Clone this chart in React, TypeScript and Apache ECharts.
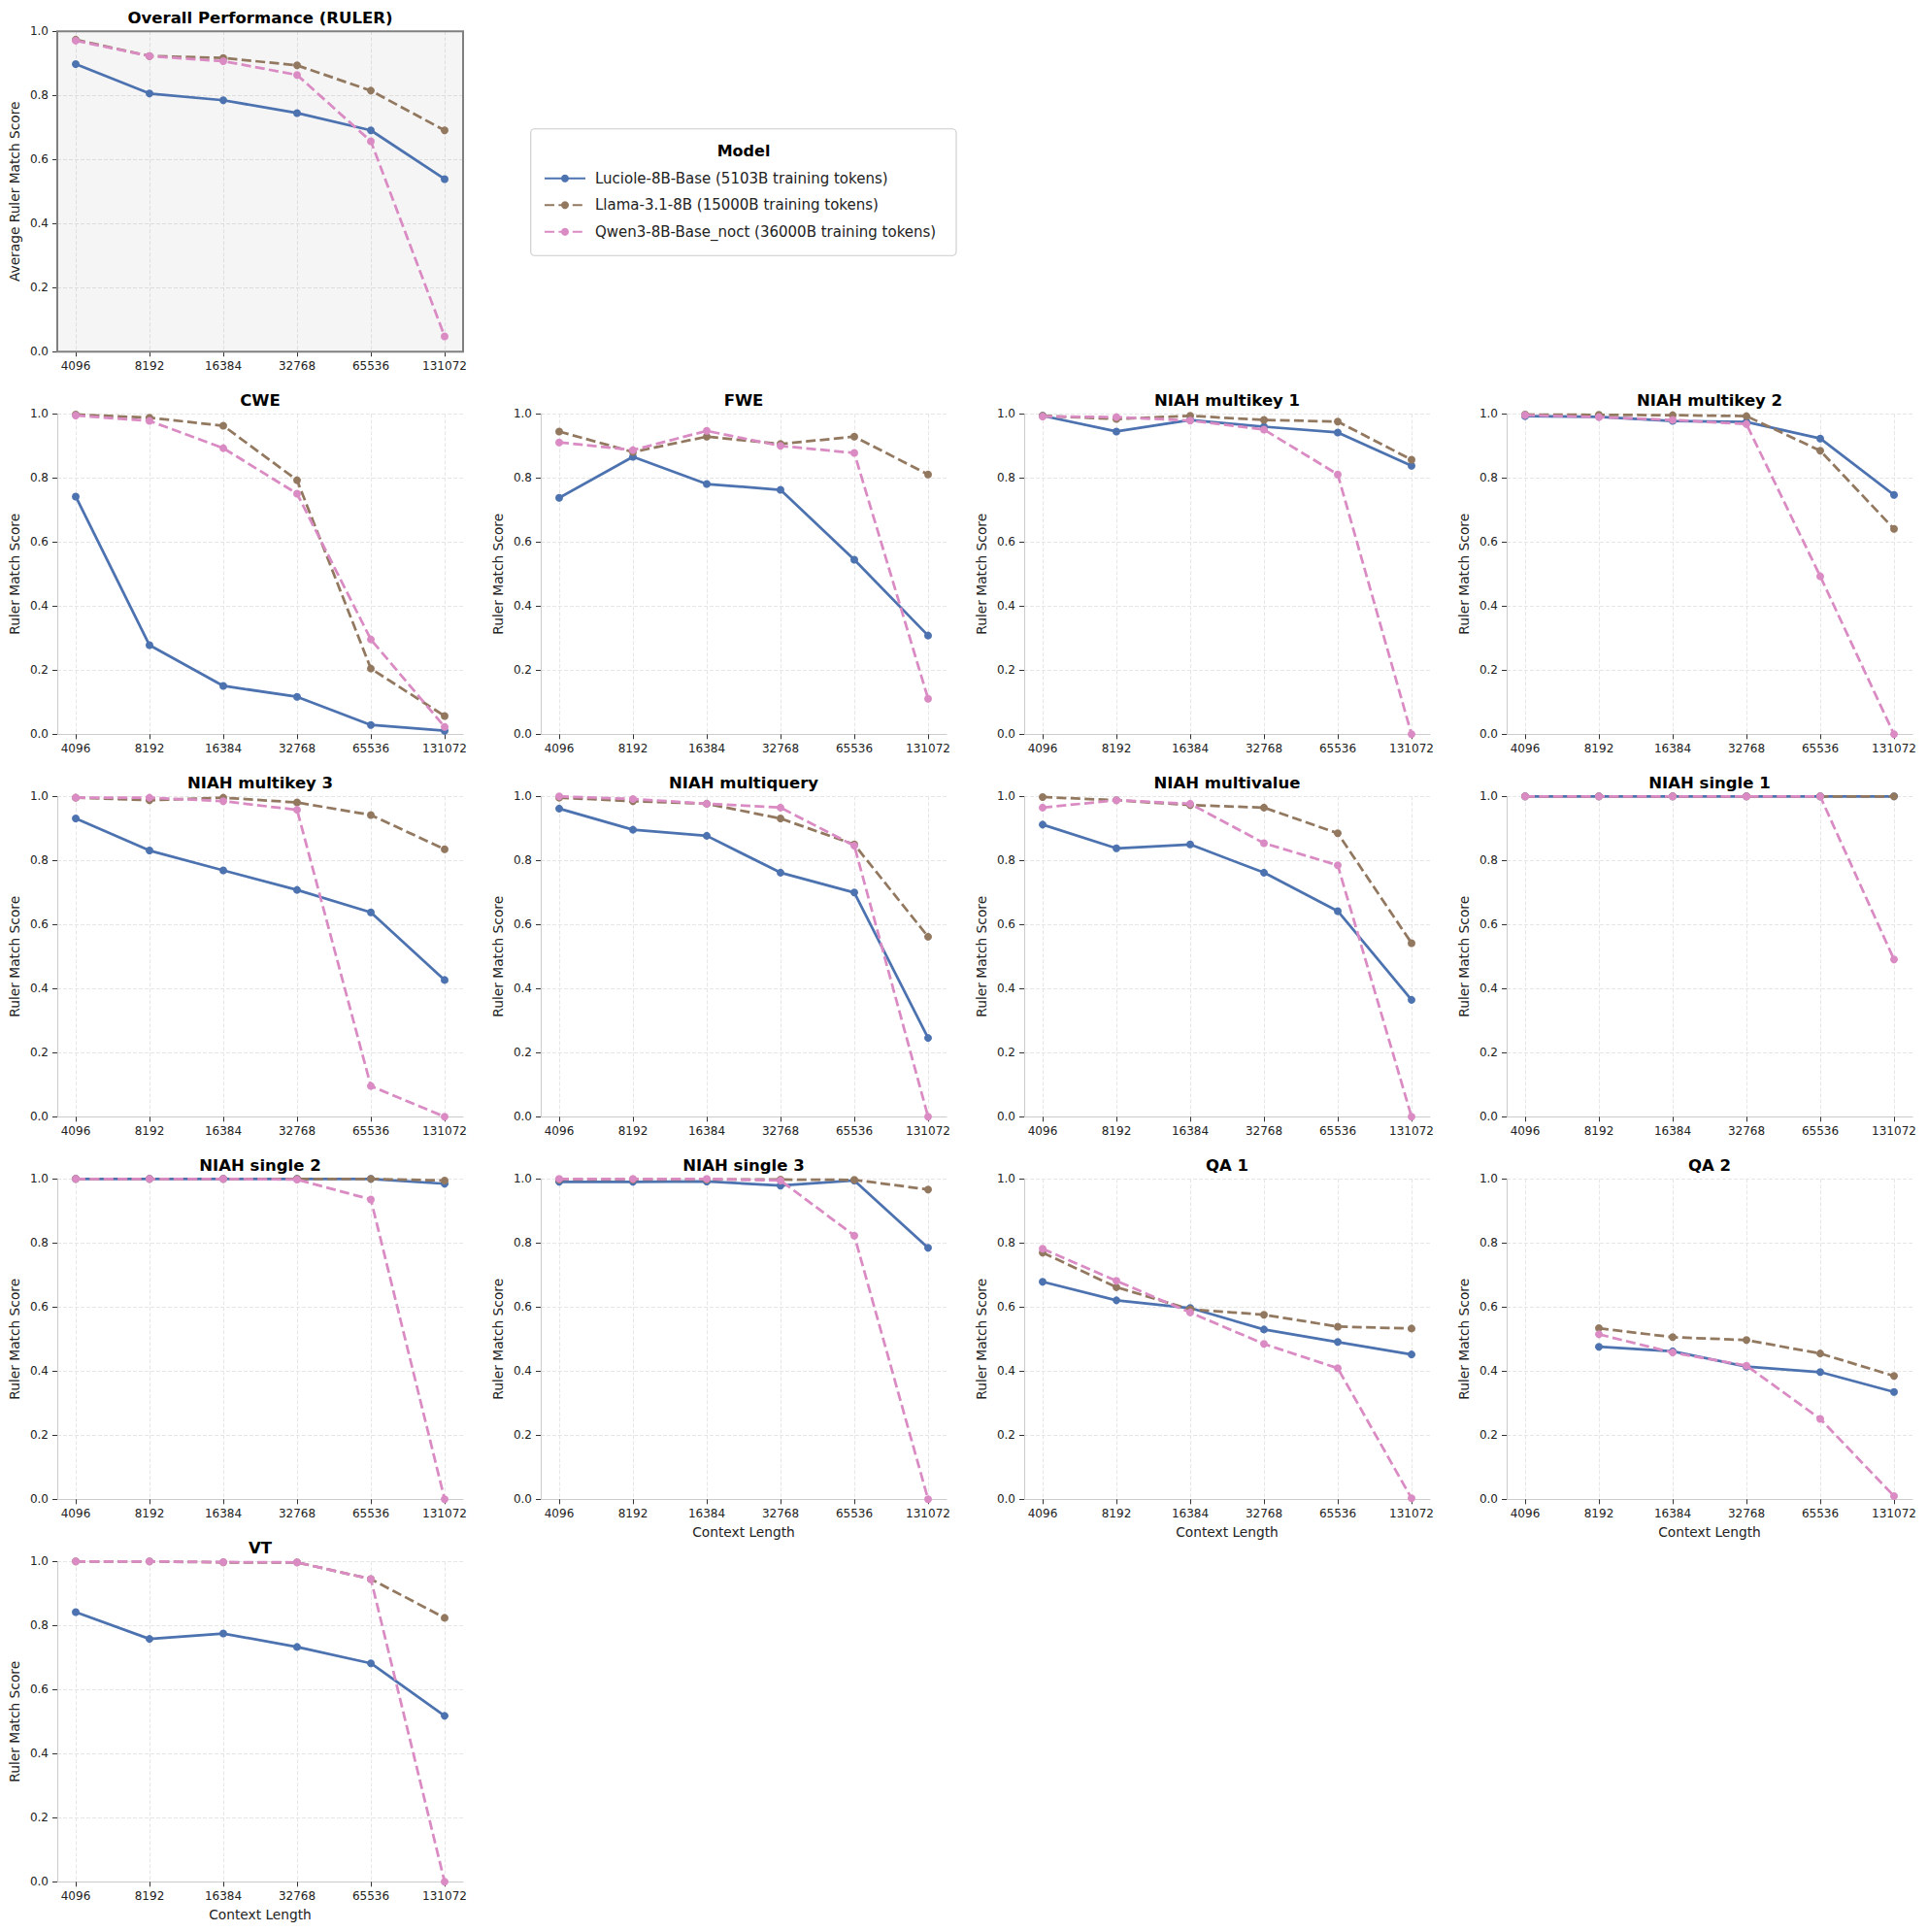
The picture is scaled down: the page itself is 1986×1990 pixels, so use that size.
import React, { useEffect, useRef } from "react";
import * as echarts from "echarts";

// ---------------- data ----------------
const contextLengths = ["4096", "8192", "16384", "32768", "65536", "131072"];
const modelNames = [
  "Luciole-8B-Base (5103B training tokens)",
  "Llama-3.1-8B (15000B training tokens)",
  "Qwen3-8B-Base_noct (36000B training tokens)",
];
const modelColors = ["#4C72B0", "#937860", "#DA8BC3"];

const overallLuciole = [0.898, 0.806, 0.785, 0.745, 0.691, 0.539];
const overallLlama = [0.974, 0.923, 0.917, 0.894, 0.815, 0.691];
const overallQwen = [0.971, 0.923, 0.907, 0.864, 0.657, 0.048];

const cweLuciole = [0.742, 0.278, 0.151, 0.117, 0.029, 0.011];
const cweLlama = [0.998, 0.988, 0.963, 0.793, 0.205, 0.057];
const cweQwen = [0.995, 0.978, 0.893, 0.751, 0.296, 0.023];

const fweLuciole = [0.738, 0.866, 0.781, 0.763, 0.545, 0.308];
const fweLlama = [0.945, 0.881, 0.929, 0.906, 0.929, 0.811];
const fweQwen = [0.911, 0.887, 0.947, 0.9, 0.878, 0.111];

const mk1Luciole = [0.994, 0.945, 0.981, 0.96, 0.942, 0.838];
const mk1Llama = [0.994, 0.984, 0.994, 0.981, 0.976, 0.857];
const mk1Qwen = [0.992, 0.99, 0.979, 0.951, 0.811, 0.0];

const mk2Luciole = [0.993, 0.991, 0.978, 0.975, 0.923, 0.747];
const mk2Llama = [0.998, 0.997, 0.996, 0.993, 0.885, 0.641];
const mk2Qwen = [0.996, 0.99, 0.981, 0.968, 0.493, 0.0];

const mk3Luciole = [0.931, 0.831, 0.769, 0.708, 0.638, 0.427];
const mk3Llama = [0.996, 0.988, 0.996, 0.981, 0.942, 0.835];
const mk3Qwen = [0.996, 0.996, 0.985, 0.958, 0.096, 0.0];

const mqLuciole = [0.962, 0.896, 0.877, 0.762, 0.7, 0.246];
const mqLlama = [0.996, 0.985, 0.977, 0.931, 0.85, 0.562];
const mqQwen = [1.0, 0.992, 0.977, 0.965, 0.846, 0.0];

const mvLuciole = [0.912, 0.838, 0.85, 0.762, 0.642, 0.365];
const mvLlama = [0.998, 0.988, 0.973, 0.965, 0.885, 0.542];
const mvQwen = [0.965, 0.988, 0.977, 0.854, 0.785, 0.0];

const s1Luciole = [1.0, 1.0, 1.0, 1.0, 1.0, 1.0];
const s1Llama = [1.0, 1.0, 1.0, 1.0, 1.0, 1.0];
const s1Qwen = [1.0, 1.0, 1.0, 1.0, 1.0, 0.491];

const s2Luciole = [1.0, 1.0, 1.0, 1.0, 1.0, 0.985];
const s2Llama = [1.0, 1.0, 1.0, 1.0, 1.0, 0.995];
const s2Qwen = [1.0, 1.0, 1.0, 0.998, 0.936, 0.0];

const s3Luciole = [0.991, 0.991, 0.992, 0.979, 0.995, 0.785];
const s3Llama = [0.998, 0.998, 0.998, 0.998, 0.997, 0.967];
const s3Qwen = [1.0, 1.0, 1.0, 0.995, 0.823, 0.0];

const qa1Luciole = [0.679, 0.621, 0.597, 0.53, 0.491, 0.452];
const qa1Llama = [0.77, 0.662, 0.593, 0.576, 0.539, 0.533];
const qa1Qwen = [0.782, 0.682, 0.583, 0.485, 0.409, 0.003];

const qa2Luciole = [null, 0.476, 0.462, 0.414, 0.397, 0.335];
const qa2Llama = [null, 0.534, 0.506, 0.497, 0.455, 0.385];
const qa2Qwen = [null, 0.515, 0.458, 0.417, 0.251, 0.01];

const vtLuciole = [0.842, 0.758, 0.775, 0.733, 0.682, 0.518];
const vtLlama = [1.0, 1.0, 0.997, 0.997, 0.945, 0.824];
const vtQwen = [1.0, 1.0, 0.998, 0.997, 0.945, 0.0];

type Panel = {
  title: string;
  row: number;
  col: number;
  series: (number | null)[][];
  yName: string;
  xName: boolean;
  overall?: boolean;
};

const panels: Panel[] = [
  { title: "Overall Performance (RULER)", row: 0, col: 0, series: [overallLuciole, overallLlama, overallQwen], yName: "Average Ruler Match Score", xName: false, overall: true },
  { title: "CWE", row: 1, col: 0, series: [cweLuciole, cweLlama, cweQwen], yName: "Ruler Match Score", xName: false },
  { title: "FWE", row: 1, col: 1, series: [fweLuciole, fweLlama, fweQwen], yName: "Ruler Match Score", xName: false },
  { title: "NIAH multikey 1", row: 1, col: 2, series: [mk1Luciole, mk1Llama, mk1Qwen], yName: "Ruler Match Score", xName: false },
  { title: "NIAH multikey 2", row: 1, col: 3, series: [mk2Luciole, mk2Llama, mk2Qwen], yName: "Ruler Match Score", xName: false },
  { title: "NIAH multikey 3", row: 2, col: 0, series: [mk3Luciole, mk3Llama, mk3Qwen], yName: "Ruler Match Score", xName: false },
  { title: "NIAH multiquery", row: 2, col: 1, series: [mqLuciole, mqLlama, mqQwen], yName: "Ruler Match Score", xName: false },
  { title: "NIAH multivalue", row: 2, col: 2, series: [mvLuciole, mvLlama, mvQwen], yName: "Ruler Match Score", xName: false },
  { title: "NIAH single 1", row: 2, col: 3, series: [s1Luciole, s1Llama, s1Qwen], yName: "Ruler Match Score", xName: false },
  { title: "NIAH single 2", row: 3, col: 0, series: [s2Luciole, s2Llama, s2Qwen], yName: "Ruler Match Score", xName: false },
  { title: "NIAH single 3", row: 3, col: 1, series: [s3Luciole, s3Llama, s3Qwen], yName: "Ruler Match Score", xName: true },
  { title: "QA 1", row: 3, col: 2, series: [qa1Luciole, qa1Llama, qa1Qwen], yName: "Ruler Match Score", xName: true },
  { title: "QA 2", row: 3, col: 3, series: [qa2Luciole, qa2Llama, qa2Qwen], yName: "Ruler Match Score", xName: true },
  { title: "VT", row: 4, col: 0, series: [vtLuciole, vtLlama, vtQwen], yName: "Ruler Match Score", xName: true },
];

// ---------------- layout ----------------
const FONT = "DejaVu Sans";
const COL_LEFT = [59, 557, 1055, 1552];
const ROW_TOP0 = 32.3;
const ROW_STEP = 394;
const PW = 418;
const PH = 330;
const tickIdx = contextLengths.map((_, i) => i);

function buildOption() {
  const grid: any[] = [];
  const xAxis: any[] = [];
  const yAxis: any[] = [];
  const series: any[] = [];
  const graphic: any[] = [];

  panels.forEach((p, i) => {
    const left = COL_LEFT[p.col];
    const top = ROW_TOP0 + ROW_STEP * p.row;
    grid.push({
      left,
      top,
      width: PW,
      height: PH,
      containLabel: false,
      show: !!p.overall,
      backgroundColor: p.overall ? "#f5f5f5" : "transparent",
      borderWidth: 0,
    });
    const splitColor = p.overall ? "#dddddd" : "#e6e6e6";
    xAxis.push({
      type: "value",
      gridIndex: i,
      min: -0.25,
      max: 5.25,
      axisLine: { show: !p.overall, onZero: false, lineStyle: { color: "#cccccc", width: 1.1 } },
      axisTick: { show: true, customValues: tickIdx, length: 5, lineStyle: { color: "#333333", width: 1 } },
      axisLabel: {
        customValues: tickIdx,
        formatter: (v: number) => contextLengths[Math.round(v)],
        fontSize: 12,
        fontFamily: FONT,
        color: "#222222",
        margin: 9,
      },
      splitLine: { show: true, lineStyle: { color: splitColor, type: [4, 2], width: 1 } },
      name: p.xName ? "Context Length" : "",
      nameLocation: "middle",
      nameGap: 27,
      nameTextStyle: { fontSize: 13.75, fontFamily: FONT, color: "#222222" },
    });
    yAxis.push({
      type: "value",
      gridIndex: i,
      min: 0,
      max: 1,
      interval: 0.2,
      axisLine: { show: !p.overall, onZero: false, lineStyle: { color: "#cccccc", width: 1.1 } },
      axisTick: { show: true, length: 5, lineStyle: { color: "#333333", width: 1 } },
      axisLabel: {
        formatter: (v: number) => v.toFixed(1),
        fontSize: 12,
        fontFamily: FONT,
        color: "#222222",
        margin: 9,
      },
      splitLine: { show: true, lineStyle: { color: splitColor, type: [4, 2], width: 1 } },
      name: p.yName,
      nameLocation: "middle",
      nameGap: 37,
      nameRotate: 90,
      nameTextStyle: { fontSize: 13.75, fontFamily: FONT, color: "#222222" },
    });
    p.series.forEach((arr, m) => {
      const data = arr
        .map((v, k) => (v == null ? null : [k, v]))
        .filter((d) => d != null);
      series.push({
        type: "line",
        name: modelNames[m],
        xAxisIndex: i,
        yAxisIndex: i,
        data,
        symbol: "circle",
        symbolSize: 8,
        showSymbol: true,
        lineStyle: { color: modelColors[m], width: 2.75, type: m === 0 ? "solid" : [10, 4.4] },
        itemStyle: { color: modelColors[m], borderWidth: 0 },
        emphasis: { disabled: true },
        z: 2 + m,
      });
    });
    if (p.overall) {
      graphic.push({
        type: "rect",
        z: 100,
        silent: true,
        shape: { x: left, y: top, width: PW, height: PH },
        style: { fill: "none", stroke: "#808080", lineWidth: 2 },
      });
    }
    graphic.push({
      type: "text",
      x: left + PW / 2,
      y: top - 14,
      style: {
        text: p.title,
        fontSize: 16.5,
        fontWeight: "bold",
        fontFamily: FONT,
        fill: "#000000",
        align: "center",
        verticalAlign: "middle",
      },
    });
  });

  // legend box + title
  graphic.push({
    type: "rect",
    z: -1,
    shape: { x: 546.7, y: 132.7, width: 438.3, height: 130.6, r: 4 },
    style: { fill: "#ffffff", stroke: "#cccccc", lineWidth: 1.1 },
  });
  graphic.push({
    type: "text",
    x: 766,
    y: 155,
    style: {
      text: "Model",
      fontSize: 16,
      fontWeight: "bold",
      fontFamily: FONT,
      fill: "#000000",
      align: "center",
      verticalAlign: "middle",
    },
  });

  return {
    animation: false,
    backgroundColor: "#ffffff",
    grid,
    xAxis,
    yAxis,
    series,
    graphic,
    legend: {
      data: modelNames,
      orient: "vertical",
      left: 560,
      top: 176.3,
      padding: 0,
      itemWidth: 42,
      itemHeight: 10,
      itemGap: 12.5,
      selectedMode: false,
      textStyle: { fontSize: 15, fontFamily: FONT, color: "#222222", lineHeight: 15, padding: [0, 0, 0, 5] },
    },
  };
}

export default function App() {
  const ref = useRef<HTMLDivElement>(null);
  useEffect(() => {
    document.body.style.margin = "0";
    if (!ref.current) return;
    const chart = echarts.init(ref.current, undefined, { renderer: "svg" });
    chart.setOption(buildOption() as any);
    return () => chart.dispose();
  }, []);
  return <div ref={ref} style={{ width: 1986, height: 1990 }} />;
}
